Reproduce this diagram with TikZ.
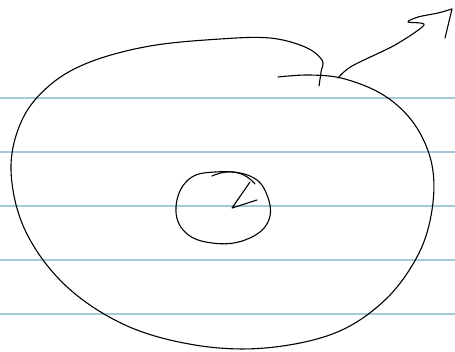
\documentclass[tikz,border=0pt]{standalone}
\begin{document}
\begin{tikzpicture}[x=1pt,y=-1pt,
  rule/.style={draw={rgb,255:red,165;green,200;blue,220},line width=1.3pt},
  ink/.style={draw=black,line width=1.1pt,line cap=round,line join=round}]
\useasboundingbox (0,0) rectangle (455,351);
\foreach \y in {98,152,206,260,314}
  \draw[rule] (0,\y) -- (455,\y);
% big closed loop
\draw[ink] plot[smooth,tension=0.6] coordinates {(278,77) (310,75) (345,79) (385,96) (415,125) (432,165) (432,210) (418,255) (385,300) (335,333) (265,348) (195,345) (125,325) (65,285) (25,230) (11,170) (22,120) (50,85) (90,62) (150,46) (220,39) (270,38) (305,47) (322,60) (321,72) (319,86)};
% arrow from loop
\draw[ink] plot[smooth,tension=0.5] coordinates {(338,78) (352,66) (395,45) (424,25) (408,22) (418,17) (438,13) (452,9)};
\draw[ink] (452,9) -- (445,38);
% small circle
\draw[ink] plot[smooth cycle,tension=0.7] coordinates {(215,172) (250,176) (267,195) (268,222) (245,240) (212,243) (185,232) (176,207) (188,180)};
\draw[ink] (250,182) -- (232,208) -- (257,200);
\draw[ink] (212,176) .. controls (230,168) and (245,172) .. (255,184);
\end{tikzpicture}
\end{document}
